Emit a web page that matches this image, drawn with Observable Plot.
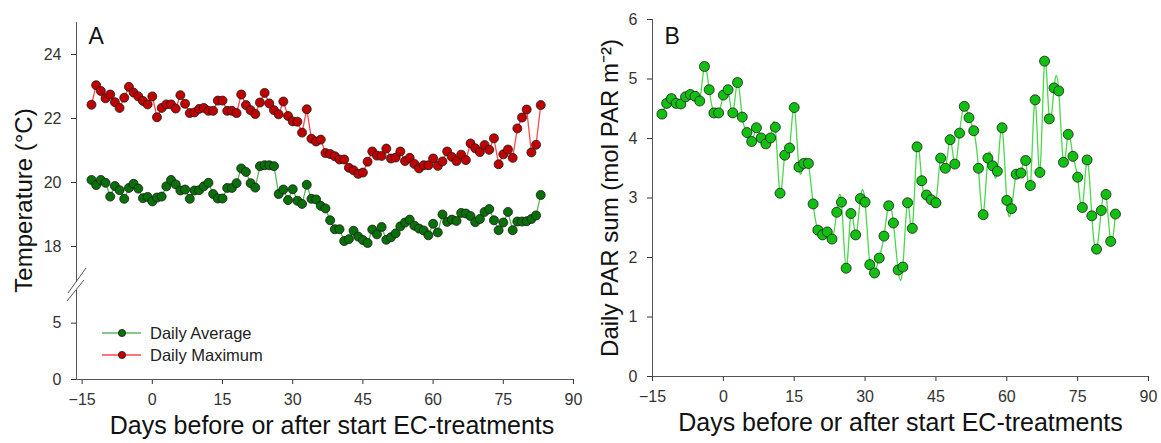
<!DOCTYPE html>
<html>
<head>
<meta charset="utf-8">
<script src="https://cdn.jsdelivr.net/npm/d3@7"></script>
<script src="https://cdn.jsdelivr.net/npm/@observablehq/plot@0.6"></script>
<style>
  body { margin: 0; background: #fff; }
  #wrap { position: relative; width: 1161px; height: 443px; overflow: hidden;
          font-family: "Liberation Sans", Arial, sans-serif; }
  .panel { position: absolute; top: 0; }
  .overlay { position: absolute; left: 0; top: 0; pointer-events: none; }
</style>
</head>
<body>
<div id="wrap"></div>
<script>
// ---------- DATA ----------
const days = [-13,-12,-11,-10,-9,-8,-7,-6,-5,-4,-3,-2,-1,0,1,2,3,4,5,6,7,8,9,10,11,12,13,14,15,16,17,18,19,20,
  21,22,23,24,25,26,27,28,29,30,31,32,33,34,35,36,37,38,39,40,41,42,43,44,45,46,47,48,49,50,51,52,53,54,55,
  56,57,58,59,60,61,62,63,64,65,66,67,68,69,70,71,72,73,74,75,76,77,78,79,80,81,82,83];

const dailyMaximum = [22.43,23.04,22.86,22.63,22.75,22.51,22.33,22.65,22.99,22.81,22.69,22.55,22.44,22.69,
  22.04,22.33,22.44,22.44,22.31,22.73,22.46,22.17,22.19,22.30,22.33,22.24,22.24,22.56,22.56,22.24,22.24,
  22.17,22.75,22.42,22.26,22.14,22.50,22.80,22.47,22.26,22.13,22.53,22.08,21.91,21.90,21.56,22.29,21.37,
  21.28,21.34,20.92,20.89,20.82,20.72,20.72,20.46,20.38,20.27,20.31,20.65,20.97,20.84,20.83,21.06,20.75,
  20.78,20.97,20.67,20.77,20.58,20.44,20.54,20.54,20.75,20.52,20.66,20.97,20.80,20.67,20.87,20.70,21.22,
  21.07,20.95,21.17,21.02,21.38,20.57,20.88,21.03,20.77,21.69,22.03,22.28,20.94,21.18,22.42];

const dailyAverage = [20.08,19.92,20.08,19.99,19.56,19.89,19.76,19.49,19.83,19.96,19.81,19.51,19.55,19.41,
  19.53,19.56,19.88,20.08,19.94,19.75,19.78,19.49,19.75,19.76,19.88,19.99,19.64,19.50,19.50,19.83,19.83,
  19.98,20.44,20.33,19.98,19.84,20.51,20.54,20.54,20.51,19.64,19.78,19.45,19.79,19.43,19.33,19.93,19.49,
  19.47,19.27,19.19,18.82,18.54,18.54,18.17,18.23,18.49,18.31,18.20,18.11,18.53,18.38,18.61,18.21,18.29,
  18.41,18.63,18.75,18.84,18.65,18.56,18.50,18.35,18.71,18.44,19.00,18.77,18.84,18.80,19.05,19.03,18.95,
  18.76,18.86,19.08,19.17,18.82,18.51,18.75,19.08,18.51,18.78,18.78,18.79,18.86,18.97,19.61];

const parSum = [4.41,4.59,4.67,4.59,4.58,4.70,4.74,4.71,4.63,5.21,4.82,4.43,4.43,4.73,4.82,4.43,4.94,4.36,
  4.10,3.95,4.18,4.01,3.91,4.01,4.19,3.08,3.72,3.84,4.52,3.52,3.58,3.58,2.90,2.46,2.38,2.43,2.31,2.76,2.93,
  1.82,2.74,2.38,2.99,2.93,1.88,1.74,1.99,2.36,2.87,2.58,1.79,1.84,2.92,2.49,3.86,3.29,3.05,2.97,2.92,3.67,
  3.50,3.98,3.57,4.09,4.54,4.35,4.13,3.50,2.72,3.67,3.54,3.45,4.18,2.96,2.82,3.40,3.42,3.63,3.21,4.65,3.43,
  5.30,4.33,4.85,4.80,3.60,4.07,3.70,3.35,2.84,3.64,2.70,2.14,2.79,3.06,2.27,2.73];

const xTicks = [-15, 0, 15, 30, 45, 60, 75, 90];
const tempTicksUpper = [18, 20, 22, 24];
const tempTicksLower = [0, 5];
const parTicks = [0, 1, 2, 3, 4, 5, 6];
const seriesNames = ["Daily Average", "Daily Maximum"];
const xTitle = "Days before or after start EC-treatments";
const yTitleA = "Temperature (°C)";
const yTitleB = "Daily PAR sum (mol PAR m⁻²)";

// ---------- STYLE ----------
const FONT = "'Liberation Sans', Arial, sans-serif";
const axisColor = "#555";
const textColor = "#333";
const redFill = "#c00000", redLine = "#ff4a4a";
const grnFill = "#087008", grnLine = "#5cb85c";
const parFill = "#12c012", parLine = "#4cd84c";
const dotStroke = "#1a1a1a";
const baseStyle = {fontFamily: FONT, fontSize: "16px", color: textColor, background: "transparent", overflow: "visible"};

const tableA = days.map((d, i) => ({day: d, avg: dailyAverage[i], max: dailyMaximum[i]}));
const tableB = days.map((d, i) => ({day: d, par: parSum[i]}));

const wrap = document.getElementById("wrap");
function place(svg, left) {
  svg.classList.add("panel");
  svg.style.left = left + "px";
  wrap.appendChild(svg);
}

// ---------- PANEL A (broken y axis: lower + upper segment) ----------
const xMinA = -16.2;
const xA = {domain: [xMinA, 90], ticks: xTicks, tickSize: 5, tickPadding: 9, tickFormat: "d", label: null};

const plotALower = Plot.plot({
  width: 600, height: 443,
  marginLeft: 76, marginRight: 27, marginTop: 290, marginBottom: 64,
  style: baseStyle,
  x: xA,
  y: {domain: [0, 7.9], ticks: tempTicksLower, tickSize: 5, tickPadding: 10, tickFormat: "d", label: null},
  marks: [
    Plot.ruleY([0], {stroke: axisColor}),
    Plot.ruleX([xMinA], {stroke: axisColor}),
    Plot.text([xTitle], {frameAnchor: "bottom", dx: 7, dy: 46, fontSize: 25, fill: "#111",
      textAnchor: "middle", lineAnchor: "middle"})
  ]
});
place(plotALower, 0);

const plotAUpper = Plot.plot({
  width: 600, height: 443,
  marginLeft: 76, marginRight: 27, marginTop: 22, marginBottom: 161,
  style: baseStyle,
  x: {...xA, axis: null},
  y: {domain: [16.875, 25], ticks: tempTicksUpper, tickSize: 5, tickPadding: 10, tickFormat: "d", label: null},
  marks: [
    Plot.ruleX([xMinA], {stroke: axisColor}),
    Plot.line(tableA, {x: "day", y: "max", stroke: redLine, strokeWidth: 1.3}),
    Plot.line(tableA, {x: "day", y: "avg", stroke: grnLine, strokeWidth: 1.3}),
    Plot.dot(tableA, {x: "day", y: "max", r: 4.5, fill: redFill, stroke: dotStroke, strokeWidth: 0.8}),
    Plot.dot(tableA, {x: "day", y: "avg", r: 4.5, fill: grnFill, stroke: dotStroke, strokeWidth: 0.8}),
    Plot.text([yTitleA], {frameAnchor: "left", dx: -52, dy: 48, rotate: -90, fontSize: 24, fill: "#111",
      textAnchor: "middle", lineAnchor: "middle"}),
    Plot.text(["A"], {frameAnchor: "top-left", dx: 12, dy: 5, fontSize: 23, fill: "#111",
      textAnchor: "start", lineAnchor: "top"})
  ]
});
place(plotAUpper, 0);

// ---------- PANEL B ----------
const plotB = Plot.plot({
  width: 581, height: 443,
  marginLeft: 72, marginRight: 13, marginTop: 19, marginBottom: 67,
  style: baseStyle,
  x: {domain: [-15, 90], ticks: xTicks, tickSize: 5, tickPadding: 9, tickFormat: "d", label: null},
  y: {domain: [0, 6], ticks: parTicks, tickSize: 5, tickPadding: 10, tickFormat: "d", label: null},
  marks: [
    Plot.ruleY([0], {stroke: axisColor}),
    Plot.ruleX([-15], {stroke: axisColor}),
    Plot.line(tableB, {x: "day", y: "par", stroke: parLine, strokeWidth: 1.3, curve: "natural"}),
    Plot.dot(tableB, {x: "day", y: "par", r: 5, fill: parFill, stroke: dotStroke, strokeWidth: 0.8}),
    Plot.text([yTitleB], {frameAnchor: "left", dx: -42, rotate: -90, fontSize: 24, fill: "#111",
      textAnchor: "middle", lineAnchor: "middle"}),
    Plot.text([xTitle], {frameAnchor: "bottom", dx: 0, dy: 46, fontSize: 25, fill: "#111",
      textAnchor: "middle", lineAnchor: "middle"}),
    Plot.text(["B"], {frameAnchor: "top-left", dx: 12, dy: 8, fontSize: 23, fill: "#111",
      textAnchor: "start", lineAnchor: "top"})
  ]
});
place(plotB, 580);

// ---------- OVERLAY: axis break marks + legend (panel A) ----------
const ov = d3.select(wrap).append("svg").attr("class", "overlay")
  .attr("width", 600).attr("height", 443);
ov.append("line").attr("x1", 68).attr("y1", 293).attr("x2", 86).attr("y2", 268)
  .attr("stroke", axisColor).attr("stroke-width", 1);
ov.append("line").attr("x1", 67).attr("y1", 301).attr("x2", 84).attr("y2", 280)
  .attr("stroke", axisColor).attr("stroke-width", 1);
const legendItems = [
  {name: seriesNames[0], line: grnLine, fill: grnFill},
  {name: seriesNames[1], line: redLine, fill: redFill}
];
const lg = ov.append("g");
legendItems.forEach((it, i) => {
  const y = 333 + i * 22;
  lg.append("line").attr("x1", 102).attr("x2", 141).attr("y1", y).attr("y2", y)
    .attr("stroke", it.line).attr("stroke-width", 1.3);
  lg.append("circle").attr("cx", 122).attr("cy", y).attr("r", 3.6)
    .attr("fill", it.fill).attr("stroke", dotStroke).attr("stroke-width", 0.8);
  lg.append("text").attr("x", 150).attr("y", y).attr("dy", "0.35em")
    .attr("font-family", FONT).attr("font-size", 16.5).attr("fill", "#222").text(it.name);
});
</script>
</body>
</html>
